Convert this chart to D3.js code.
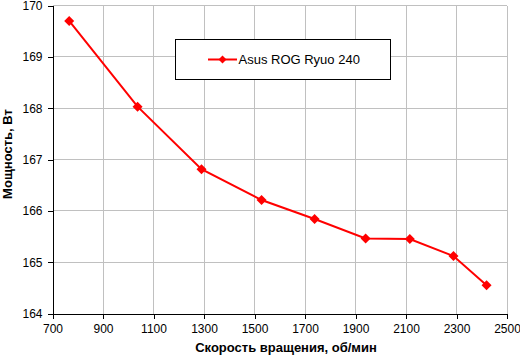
<!DOCTYPE html>
<html><head><meta charset="utf-8">
<script src="https://cdn.jsdelivr.net/npm/d3@7"></script>
<style>body{margin:0;background:#fff}svg{display:block}text{font-family:"Liberation Sans",Arial,sans-serif}</style>
</head><body>
<svg id="c" width="520" height="355"></svg>
<script>
const seriesName = "Asus ROG Ryuo 240";
const rpm = [766, 1037, 1290, 1528, 1738, 1940, 2115, 2288, 2419];
const power = [169.70, 168.03, 166.81, 166.21, 165.84, 165.46, 165.45, 165.12, 164.55];
const xTicks = [700, 900, 1100, 1300, 1500, 1700, 1900, 2100, 2300, 2500];
const yTicks = [164, 165, 166, 167, 168, 169, 170];
const xTitle = "Скорость вращения, об/мин";
const yTitle = "Мощность, Вт";

const svg = d3.select("#c");
const L = 52.5, R = 507, T = 5.5, B = 313.5;
const x = d3.scaleLinear().domain([700, 2500]).range([L, R]);
const y = d3.scaleLinear().domain([164, 170]).range([B, T]);

// grid
svg.append("g").selectAll("line").data(xTicks.slice(1)).join("line")
  .attr("x1", d => x(d)).attr("x2", d => x(d)).attr("y1", T).attr("y2", B)
  .attr("stroke", "#c0c0c0").attr("stroke-width", 1).attr("shape-rendering","crispEdges");
svg.append("g").selectAll("line").data(yTicks.slice(1)).join("line")
  .attr("x1", L).attr("x2", R).attr("y1", d => y(d)).attr("y2", d => y(d))
  .attr("stroke", "#c0c0c0").attr("stroke-width", 1).attr("shape-rendering","crispEdges");

// axes
const xAxis = svg.append("g").attr("transform", `translate(0,${B})`)
  .call(d3.axisBottom(x).tickValues(xTicks).tickSize(5).tickPadding(6).tickFormat(d3.format("d")));
const yAxis = svg.append("g").attr("transform", `translate(${L},0)`)
  .call(d3.axisLeft(y).tickValues(yTicks).tickSize(5).tickPadding(5).tickFormat(d3.format("d")));
[xAxis, yAxis].forEach(a => {
  a.select(".domain").attr("stroke", "#000").attr("shape-rendering","crispEdges");
  a.selectAll(".tick line").attr("stroke", "#000").attr("shape-rendering","crispEdges");
  a.selectAll("text").attr("font-size", 12).attr("fill", "#000")
    .attr("font-family", "'Liberation Sans', Arial, sans-serif");
});

// line
const pts = rpm.map((r, i) => [r, power[i]]);
svg.append("path").datum(pts)
  .attr("d", d3.line().x(d => x(d[0])).y(d => y(d[1])))
  .attr("fill", "none").attr("stroke", "#ff0000").attr("stroke-width", 2);
const diamond = d3.symbol().type(d3.symbolDiamond2).size(60);
svg.append("g").selectAll("path").data(pts).join("path")
  .attr("transform", d => `translate(${x(d[0])},${y(d[1])}) rotate(45)`)
  .attr("d", d3.symbol().type(d3.symbolSquare).size(50)())
  .attr("fill", "#ff0000");

// legend
const lg = svg.append("g");
lg.append("rect").attr("x", 175.5).attr("y", 39.5).attr("width", 215).attr("height", 40)
  .attr("fill", "#fff").attr("stroke", "#000").attr("stroke-width", 1);
lg.append("line").attr("x1", 208).attr("x2", 237).attr("y1", 59.5).attr("y2", 59.5)
  .attr("stroke", "#ff0000").attr("stroke-width", 2);
lg.append("path").attr("transform", "translate(222.5,59.5) rotate(45)")
  .attr("d", d3.symbol().type(d3.symbolSquare).size(32)()).attr("fill", "#ff0000");
lg.append("text").attr("x", 238.5).attr("y", 64).attr("font-size", 13).text(seriesName);

// titles
svg.append("text").attr("x", 286).attr("y", 351.5).attr("text-anchor", "middle")
  .attr("font-size", 13).attr("font-weight", "bold").text(xTitle);
svg.append("text").attr("transform", "translate(12,154) rotate(-90)").attr("text-anchor", "middle")
  .attr("font-size", 13).attr("font-weight", "bold").text(yTitle);
</script>
</body></html>
